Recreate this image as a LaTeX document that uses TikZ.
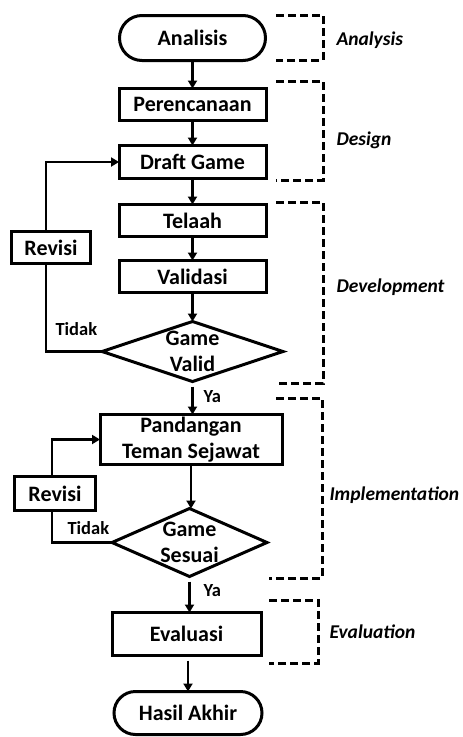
\documentclass[tikz,border=0pt]{standalone}
\usepackage{fontspec}
\setmainfont{Carlito}
\usetikzlibrary{positioning,shapes.misc,shapes.geometric,arrows.meta}
\tikzset{
box/.style={draw,line width=3pt,rectangle,minimum width=147pt,minimum height=33pt,inner sep=0pt,outer sep=0pt,align=center,font=\fontsize{22}{26.5}\selectfont\bfseries},
term/.style={box,rounded rectangle},
dec/.style={box,diamond,inner sep=-3pt},
arr/.style={line width=2.4pt,-{Triangle[length=8pt,width=9pt]}},
lin/.style={line width=2.4pt},
phase/.style={line width=3pt,dash pattern=on 8pt off 4pt},
plabel/.style={anchor=west,font=\fontsize{19.5}{23}\selectfont\bfseries\itshape},
yn/.style={anchor=base west,font=\fontsize{18.5}{22}\selectfont\bfseries}
}
\begin{document}
\begin{tikzpicture}[x=1pt,y=-1pt]
\useasboundingbox (0,0) rectangle (463,737);
\node[term,minimum width=146pt,minimum height=45pt] (ana) at (192.5,38) {Analisis};
\node[box,below=28pt of ana,minimum height=32pt] (ren) {Perencanaan};
\node[box,below=25pt of ren] (draft) {Draft Game};
\node[box,below=26pt of draft,minimum height=32pt] (tel) {Telaah};
\node[box,below=24pt of tel,minimum height=32pt] (val) {Validasi};
\node[dec,below=29pt of val,aspect=3,minimum width=181pt,minimum height=60pt] (gv) {Game\\Valid};
\node[box,below=33pt of gv,xshift=-1.5pt,minimum width=182pt,minimum height=50pt] (pan) {Pandangan\\Teman Sejawat};
\node[dec,below=44pt of pan,xshift=-1.5pt,aspect=2.28,minimum width=155pt,minimum height=68pt] (gs) {Game\\Sesuai};
\node[box,below=36pt of gs,xshift=-3pt,minimum width=149pt,minimum height=43pt] (eva) {Evaluasi};
\node[term,below=36pt of eva,xshift=1.5pt,minimum width=148pt,minimum height=43pt] (has) {Hasil Akhir};
\node[box,minimum width=79pt,minimum height=32pt] (rev1) at (51,247.5) {Revisi};
\node[box,minimum width=81pt,minimum height=34pt] (rev2) at (55,493.5) {Revisi};

\draw[arr] (ana.south) -- (ren.north);
\draw[arr] (ren.south) -- (draft.north);
\draw[arr] (draft.south) -- (tel.north);
\draw[arr] (tel.south) -- (val.north);
\draw[arr] (val.south) -- (gv.north);
\draw[arr,shorten <=5pt] (gv.south) -- (gv.south |- pan.north);
\draw[arr] (pan.south) -- (pan.south |- gs.north);
\draw[arr,shorten <=5pt] (gs.south) -- (gs.south |- eva.north);
\draw[arr,shorten <=5pt] (has.north |- eva.south) -- (has.north);
\draw[arr] ([xshift=-5pt]rev1.north) |- (draft.west);
\draw[lin] ([xshift=-5pt]rev1.south) |- (gv.west);
\draw[arr] ([xshift=-3pt]rev2.north) |- (pan.west);
\draw[lin] ([xshift=-3pt]rev2.south) |- (gs.west);

\node[yn] (no1) at (52,335) {Tidak};
\node[yn] (no2) at (64,534) {Tidak};
\node[yn] (yes1) at (200,402) {Ya};
\node[yn] (yes2) at (200,596) {Ya};

\draw[phase] (276,15) -| (323,60) -- (276,60);
\draw[phase] (276,81) -| (323,180) -- (276,180);
\draw[phase] (276,202) -| (323,383) -- (276,383);
\draw[phase] (276,398) -| (322,578) -- (269,578);
\draw[phase] (269,600) -| (318,663) -- (269,663);
\node[plabel] (p1) at (333,40) {Analysis};
\node[plabel] (p2) at (333,140) {Design};
\node[plabel] (p3) at (333,287) {Development};
\node[plabel] (p4) at (326,495) {Implementation};
\node[plabel] (p5) at (326,632) {Evaluation};
\end{tikzpicture}
\end{document}
